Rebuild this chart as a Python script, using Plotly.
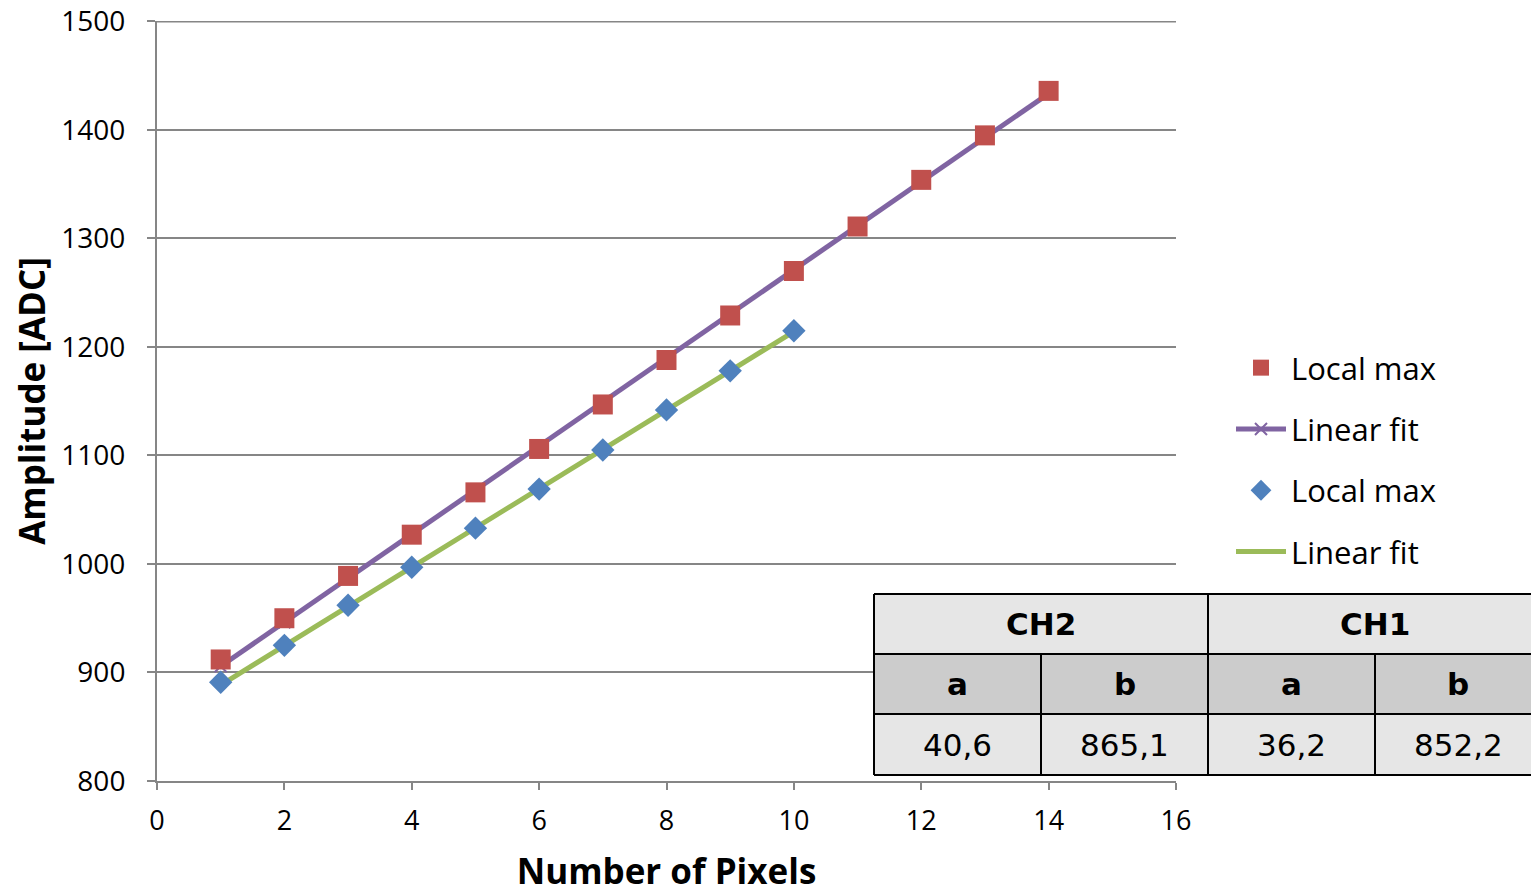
import plotly.graph_objects as go

# ---- data ----
pixels_ch2 = [1, 2, 3, 4, 5, 6, 7, 8, 9, 10, 11, 12, 13, 14]
localmax_ch2 = [912, 950, 989, 1027, 1066, 1106, 1147, 1188, 1229, 1270, 1311, 1354, 1395, 1436]
fit_ch2 = [905.7, 946.3, 986.9, 1027.5, 1068.1, 1108.7, 1149.3, 1189.9, 1230.5, 1271.1,
           1311.7, 1352.3, 1392.9, 1433.5]

pixels_ch1 = [1, 2, 3, 4, 5, 6, 7, 8, 9, 10]
localmax_ch1 = [891, 925, 962, 997, 1033, 1069, 1105, 1142, 1178, 1215]
fit_ch1 = [888.4, 924.6, 960.8, 997.0, 1033.2, 1069.4, 1105.6, 1141.8, 1178.0, 1214.2]

table_channels = ["CH2", "CH1"]
table_params = ["a", "b", "a", "b"]
table_values = ["40,6", "865,1", "36,2", "852,2"]

x_ticks = [0, 2, 4, 6, 8, 10, 12, 14, 16]
y_ticks = [800, 900, 1000, 1100, 1200, 1300, 1400, 1500]

RED = "#C0504D"
PURPLE = "#8064A2"
BLUE = "#4F81BD"
GREEN = "#9BBB59"
GRID = "#868686"
FONT = "Open Sans"
TFONT = "DejaVu Sans"

OFF = 8  # page body margin offset
W, H = 1539 - OFF, 894 - OFF
ML, MT = 157 - OFF, 21 - OFF
MR, MB = W - (1176 - OFF), H - (781 - OFF)
PW, PH = W - ML - MR, H - MT - MB


def px(xp):
    # reference screen x -> paper x
    return (xp - OFF - ML) / PW


def py(yp):
    # reference screen y -> paper y
    return (H - MB - (yp - OFF)) / PH


fig = go.Figure()

fig.add_trace(go.Scatter(
    x=pixels_ch2, y=fit_ch2, mode="lines+markers", name="Linear fit",
    line=dict(color=PURPLE, width=5),
    marker=dict(symbol="x-thin", size=12, line=dict(color=PURPLE, width=2), color=PURPLE),
    legendrank=2, legendgroup="g2"))
fig.add_trace(go.Scatter(
    x=pixels_ch1, y=fit_ch1, mode="lines", name="Linear fit",
    line=dict(color=GREEN, width=5),
    legendrank=4, legendgroup="g4"))
fig.add_trace(go.Scatter(
    x=pixels_ch2, y=localmax_ch2, mode="markers", name="Local max",
    marker=dict(symbol="square", size=20, color=RED),
    legendrank=1, legendgroup="g1"))
fig.add_trace(go.Scatter(
    x=pixels_ch1, y=localmax_ch1, mode="markers", name="Local max",
    marker=dict(symbol="diamond", size=18, color=BLUE),
    legendrank=3, legendgroup="g3"))

shapes = []
# top gridline (plotly drops the gridline at the range end)
shapes.append(dict(type="line", xref="x", yref="y", x0=x_ticks[0], x1=x_ticks[-1],
                   y0=y_ticks[-1], y1=y_ticks[-1], line=dict(color=GRID, width=2),
                   layer="below"))

# ---- table overlay ----
col_edges = [874, 1041, 1208, 1375, 1545]
row_edges = [594, 654, 714, 775]
row_fills = ["#E6E6E6", "#CCCCCC", "#E6E6E6"]
for r in range(3):
    shapes.append(dict(type="rect", xref="paper", yref="paper",
                       x0=px(col_edges[0]), x1=px(col_edges[-1]),
                       y0=py(row_edges[r + 1]), y1=py(row_edges[r]),
                       fillcolor=row_fills[r], line=dict(width=0), layer="above"))
for ye in row_edges:
    shapes.append(dict(type="line", xref="paper", yref="paper",
                       x0=px(col_edges[0]), x1=px(col_edges[-1]), y0=py(ye), y1=py(ye),
                       line=dict(color="black", width=2), layer="above"))
for i, xe in enumerate(col_edges[:-1]):
    top = row_edges[0] if i in (0, 2) else row_edges[1]
    shapes.append(dict(type="line", xref="paper", yref="paper",
                       x0=px(xe), x1=px(xe), y0=py(row_edges[-1]), y1=py(top),
                       line=dict(color="black", width=2), layer="above"))

annotations = []
tf = dict(family=TFONT, size=31, color="black")
for i, ch in enumerate(table_channels):
    xc = (col_edges[2 * i] + min(col_edges[2 * i + 2], 1541)) / 2
    annotations.append(dict(x=px(xc), y=py((row_edges[0] + row_edges[1]) / 2),
                            xref="paper", yref="paper", text="<b>%s</b>" % ch, showarrow=False,
                            font=tf, xanchor="center", yanchor="middle"))
for i in range(4):
    xc = (col_edges[i] + min(col_edges[i + 1], 1541)) / 2
    annotations.append(dict(x=px(xc), y=py((row_edges[1] + row_edges[2]) / 2),
                            xref="paper", yref="paper", text="<b>%s</b>" % table_params[i],
                            showarrow=False, font=tf, xanchor="center", yanchor="middle"))
    annotations.append(dict(x=px(xc), y=py((row_edges[2] + row_edges[3]) / 2),
                            xref="paper", yref="paper", text=table_values[i], showarrow=False,
                            font=tf, xanchor="center", yanchor="middle"))

fig.update_layout(
    width=W, height=H,
    margin=dict(l=ML, r=MR, t=MT, b=MB, autoexpand=False),
    paper_bgcolor="white", plot_bgcolor="white",
    font=dict(family=FONT, size=28, color="black"),
    showlegend=True,
    legend=dict(x=px(1231), y=py(341), xanchor="left", yanchor="top",
                font=dict(family=FONT, size=31, color="black"),
                tracegroupgap=18, itemwidth=50, bgcolor="rgba(0,0,0,0)"),
    shapes=shapes,
    annotations=annotations,
)
fig.update_xaxes(
    range=[0, 16], tickvals=x_ticks, showgrid=False, zeroline=False, automargin=False,
    showline=True, linecolor=GRID, linewidth=2, ticklabeloverflow="allow",
    ticks="outside", ticklen=7, tickcolor=GRID, tickwidth=2, ticklabelstandoff=8,
    tickfont=dict(family=FONT, size=27),
    title=dict(text="<b>Number of Pixels</b>", font=dict(family=FONT, size=35), standoff=29),
)
fig.update_yaxes(
    range=[800, 1500.4], tickvals=y_ticks, showgrid=True, gridcolor=GRID, gridwidth=2,
    zeroline=False, showline=True, linecolor=GRID, linewidth=2, automargin=False,
    ticklabeloverflow="allow",
    ticks="outside", ticklen=8, tickcolor=GRID, tickwidth=2, ticklabelstandoff=16,
    tickfont=dict(family=FONT, size=28),
    title=dict(text="<b>Amplitude [ADC]</b>", font=dict(family=FONT, size=35), standoff=12),
)

fig.write_html("out.html")
